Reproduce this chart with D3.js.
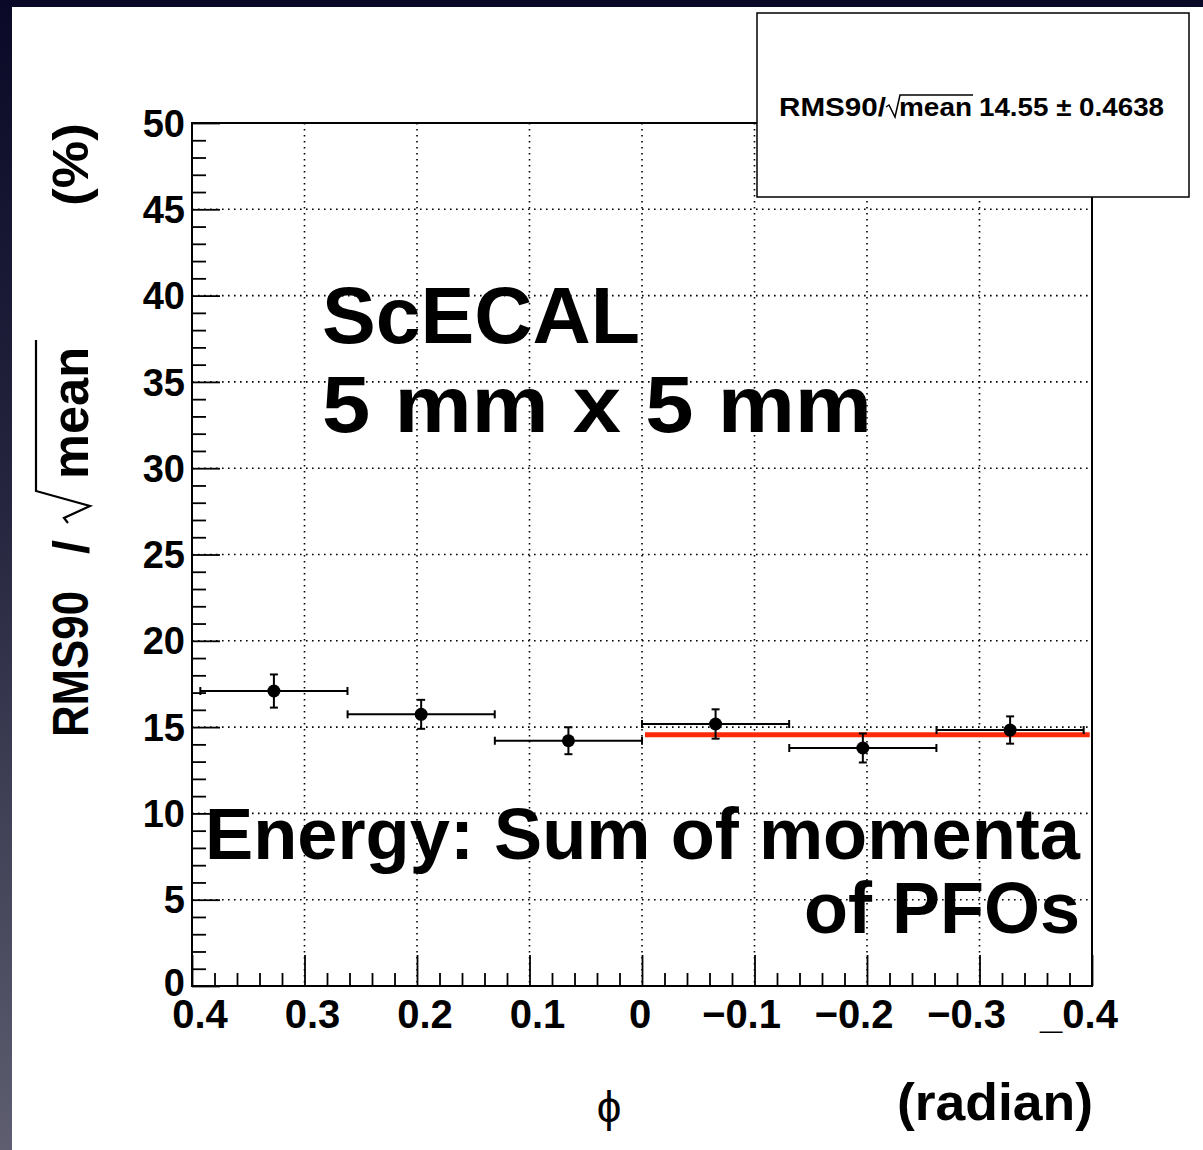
<!DOCTYPE html>
<html>
<head>
<meta charset="utf-8">
<script src="https://cdn.jsdelivr.net/npm/d3@7"></script>
<style>
  html, body { margin: 0; padding: 0; background: #fff; }
  svg { display: block; }
  text { font-family: "Liberation Sans", Arial, Helvetica, sans-serif; }
</style>
</head>
<body>
<svg id="chart" width="1203" height="1150"></svg>
<script>
// ---------------- data ----------------
const phiCenters     = [0.3272, 0.1963, 0.0654, -0.0654, -0.1963, -0.3272];
const phiHalfWidths  = [0.0654, 0.0654, 0.0654, 0.0654, 0.0654, 0.0654];
const resolution     = [17.09, 15.74, 14.21, 15.18, 13.79, 14.83];
const resolutionErr  = [0.96, 0.84, 0.78, 0.85, 0.84, 0.79];
const fitValue       = 14.55;
const fitError       = 0.4638;
const fitRange       = [0, -0.398];
const xTickValues    = [0.4, 0.3, 0.2, 0.1, 0, -0.1, -0.2, -0.3, -0.4];
const xTickLabels    = ["0.4", "0.3", "0.2", "0.1", "0", "\u22120.1", "\u22120.2", "\u22120.3", "_0.4"];
const yTickValues    = [0, 5, 10, 15, 20, 25, 30, 35, 40, 45, 50];
const yTickLabels    = ["0", "5", "10", "15", "20", "25", "30", "35", "40", "45", "50"];

// ---------------- layout ----------------
const svg = d3.select("#chart");
const W = 1203, H = 1150;
const L = 192, R = 1092, T = 123, B = 986;

const x = d3.scaleLinear().domain([0.4, -0.4]).range([L, R]);
const y = d3.scaleLinear().domain([0, 50]).range([B, T]);

// background
const defs = svg.append("defs");
const grad = defs.append("linearGradient").attr("id", "bg").attr("x1", 0).attr("y1", 0).attr("x2", 0).attr("y2", 1);
grad.append("stop").attr("offset", "0%").attr("stop-color", "#0a0a28");
grad.append("stop").attr("offset", "45%").attr("stop-color", "#262640");
grad.append("stop").attr("offset", "100%").attr("stop-color", "#5e5e70");
svg.append("rect").attr("width", W).attr("height", H).attr("fill", "url(#bg)");
svg.append("rect").attr("x", 12).attr("y", 7).attr("width", W - 12).attr("height", H - 7).attr("fill", "#fff");

// grid (dotted)
const grid = svg.append("g").attr("stroke", "#000").attr("stroke-width", 1.6).attr("stroke-dasharray", "1.6,4.4");
grid.selectAll("line.gx").data(xTickValues.slice(1, -1)).join("line")
  .attr("x1", d => x(d)).attr("x2", d => x(d)).attr("y1", T).attr("y2", B);
grid.selectAll("line.gy").data(yTickValues.slice(1, -1)).join("line")
  .attr("x1", L).attr("x2", R).attr("y1", d => y(d)).attr("y2", d => y(d));

// axes with d3 axis generators (ticks drawn inward)
const xMinor = d3.range(-0.4, 0.4001, 0.02).filter(v => Math.abs(Math.round(v * 10) - v * 10) > 1e-6);
const yMinor = d3.range(0, 50.001, 1).filter(v => v % 5 !== 0);

const xAxisMajor = d3.axisTop(x).tickValues(xTickValues).tickSize(31).tickFormat("");
const xAxisMinor = d3.axisTop(x).tickValues(xMinor).tickSize(13).tickFormat("");
const yAxisMajor = d3.axisRight(y).tickValues(yTickValues).tickSize(28).tickFormat("");
const yAxisMinor = d3.axisRight(y).tickValues(yMinor).tickSize(14).tickFormat("");

function styleAxis(g) {
  g.select(".domain").remove();
  g.selectAll(".tick line").attr("stroke", "#000").attr("stroke-width", 1.8);
}
svg.append("g").attr("transform", `translate(0,${B})`).call(xAxisMajor).call(styleAxis);
svg.append("g").attr("transform", `translate(0,${B})`).call(xAxisMinor).call(styleAxis);
svg.append("g").attr("transform", `translate(${L},0)`).call(yAxisMajor).call(styleAxis);
svg.append("g").attr("transform", `translate(${L},0)`).call(yAxisMinor).call(styleAxis);

// frame
svg.append("rect").attr("x", L).attr("y", T).attr("width", R - L).attr("height", B - T)
  .attr("fill", "none").attr("stroke", "#000").attr("stroke-width", 2);

// tick labels
svg.append("g").selectAll("text").data(xTickValues).join("text")
  .attr("x", d => x(d) + (d > 0 ? 8 : d < 0 ? -13 : -2))
  .attr("y", 1028)
  .attr("text-anchor", "middle")
  .attr("font-size", 40).attr("font-weight", "bold")
  .text((d, i) => xTickLabels[i]);

svg.append("g").selectAll("text").data(yTickValues).join("text")
  .attr("x", 185)
  .attr("y", d => y(d) - (d === 0 ? 4 : 0))
  .attr("dy", "0.36em")
  .attr("text-anchor", "end")
  .attr("font-size", 38).attr("font-weight", "bold")
  .text((d, i) => yTickLabels[i]);

// annotation texts
svg.append("text").attr("x", 322).attr("y", 343).attr("font-size", 80).attr("font-weight", "bold")
  .attr("textLength", 318).attr("lengthAdjust", "spacingAndGlyphs").text("ScECAL");
svg.append("text").attr("x", 322).attr("y", 432).attr("font-size", 80).attr("font-weight", "bold")
  .attr("textLength", 550).attr("lengthAdjust", "spacingAndGlyphs").text("5 mm x 5 mm");
svg.append("text").attr("x", 205).attr("y", 859).attr("font-size", 72).attr("font-weight", "bold")
  .attr("textLength", 875).attr("lengthAdjust", "spacingAndGlyphs").text("Energy: Sum of momenta");
svg.append("text").attr("x", 1080).attr("y", 933).attr("font-size", 72).attr("font-weight", "bold")
  .attr("text-anchor", "end").text("of PFOs");

// fit line
svg.append("line")
  .attr("x1", x(fitRange[0]) + 3).attr("x2", x(fitRange[1]))
  .attr("y1", y(fitValue)).attr("y2", y(fitValue))
  .attr("stroke", "#ff2a0a").attr("stroke-width", 5);

// data points with error bars
const pts = svg.append("g").attr("stroke", "#000").attr("stroke-width", 2);
phiCenters.forEach((c, i) => {
  const cx = x(c), cy = y(resolution[i]);
  const xl = x(c + phiHalfWidths[i]), xr = x(c - phiHalfWidths[i]);
  const yt = y(resolution[i] + resolutionErr[i]), yb = y(resolution[i] - resolutionErr[i]);
  pts.append("line").attr("x1", xl).attr("x2", xr).attr("y1", cy).attr("y2", cy);
  pts.append("line").attr("x1", xl).attr("x2", xl).attr("y1", cy - 4).attr("y2", cy + 4);
  pts.append("line").attr("x1", xr).attr("x2", xr).attr("y1", cy - 4).attr("y2", cy + 4);
  pts.append("line").attr("x1", cx).attr("x2", cx).attr("y1", yt).attr("y2", yb);
  pts.append("line").attr("x1", cx - 4).attr("x2", cx + 4).attr("y1", yt).attr("y2", yt);
  pts.append("line").attr("x1", cx - 4).attr("x2", cx + 4).attr("y1", yb).attr("y2", yb);
  svg.append("circle").attr("cx", cx).attr("cy", cy).attr("r", 6.5).attr("fill", "#000");
});

// stats box
svg.append("rect").attr("x", 757).attr("y", 13).attr("width", 432).attr("height", 184)
  .attr("fill", "#fff").attr("stroke", "#000").attr("stroke-width", 1.5);
const st = svg.append("g");
const sBase = 116;
st.append("text").attr("x", 779).attr("y", sBase).attr("font-size", 25).attr("font-weight", "bold")
  .attr("textLength", 107).attr("lengthAdjust", "spacingAndGlyphs").text("RMS90/");
st.append("path")
  .attr("d", `M886,${sBase - 9} L889,${sBase - 11} L895,${sBase + 1} L900,${sBase - 21} L973,${sBase - 21}`)
  .attr("fill", "none").attr("stroke", "#000").attr("stroke-width", 1.5);
st.append("text").attr("x", 899).attr("y", sBase).attr("font-size", 25).attr("font-weight", "bold")
  .attr("textLength", 73).attr("lengthAdjust", "spacingAndGlyphs").text("mean");
st.append("text").attr("x", 979).attr("y", sBase).attr("font-size", 25).attr("font-weight", "bold")
  .attr("textLength", 185).attr("lengthAdjust", "spacingAndGlyphs")
  .text(`${fitValue.toFixed(2)} \u00b1 ${fitError}`);

// y axis title (rotated)
const yt = svg.append("g").attr("transform", "translate(88,737) rotate(-90)");
yt.append("text").attr("x", 0).attr("y", 0).attr("font-size", 50).attr("font-weight", "bold")
  .attr("textLength", 146).attr("lengthAdjust", "spacingAndGlyphs").text("RMS90");
yt.append("text").attr("x", 183).attr("y", 0).attr("font-size", 50).attr("font-weight", "bold").text("/");
yt.append("path")
  .attr("d", "M214,-20 L219,-24 L231,2 L246,-52 L397,-52")
  .attr("fill", "none").attr("stroke", "#000").attr("stroke-width", 2.2);
yt.append("text").attr("x", 258).attr("y", 0).attr("font-size", 52).attr("font-weight", "bold")
  .attr("textLength", 132).attr("lengthAdjust", "spacingAndGlyphs").text("mean");
yt.append("text").attr("x", 531).attr("y", 0).attr("font-size", 50).attr("font-weight", "bold")
  .attr("textLength", 83).attr("lengthAdjust", "spacingAndGlyphs").text("(%)");

// x axis title
svg.append("text").attr("x", 609).attr("y", 1122).attr("text-anchor", "middle")
  .attr("font-family", "'DejaVu Serif', 'Liberation Serif', serif").attr("font-size", 44).text("\u03d5");
svg.append("text").attr("x", 1093).attr("y", 1120).attr("text-anchor", "end")
  .attr("font-size", 52).attr("font-weight", "bold")
  .attr("textLength", 196).attr("lengthAdjust", "spacingAndGlyphs").text("(radian)");
</script>
</body>
</html>
